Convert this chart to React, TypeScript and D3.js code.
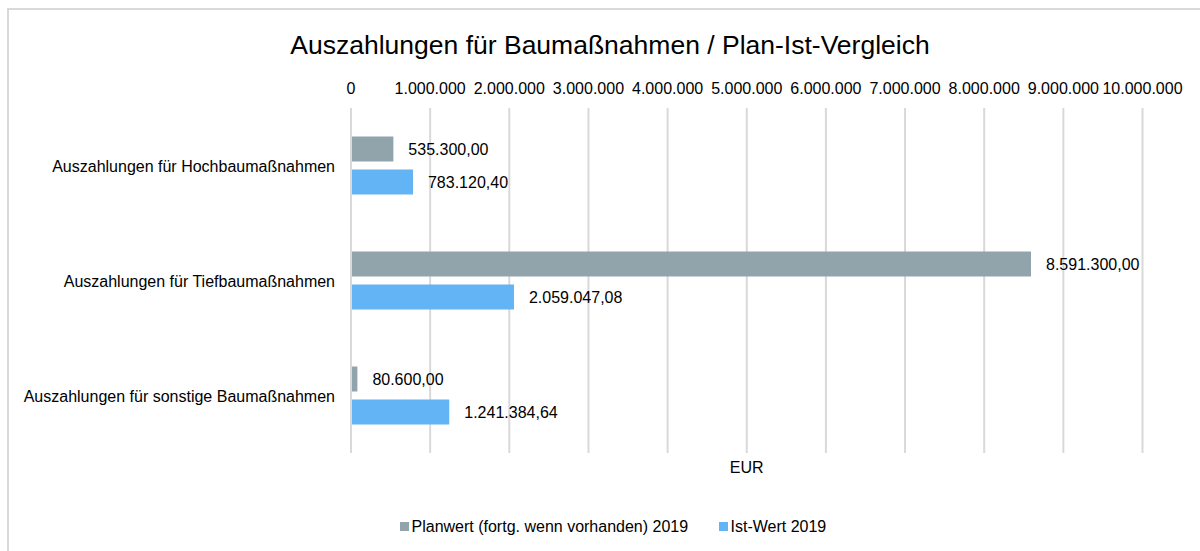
import React, { useEffect, useRef } from 'react';
import * as d3 from 'd3';

const W = 1200;
const H = 551;

const categories = [
  'Auszahlungen für Hochbaumaßnahmen',
  'Auszahlungen für Tiefbaumaßnahmen',
  'Auszahlungen für sonstige Baumaßnahmen',
];
const planValues = [535300.0, 8591300.0, 80600.0];
const istValues = [783120.4, 2059047.08, 1241384.64];
const seriesNames = ['Planwert (fortg. wenn vorhanden) 2019', 'Ist-Wert 2019'];
const seriesColors = ['#91A3AB', '#63B4F5'];
const ticks = [0, 1000000, 2000000, 3000000, 4000000, 5000000, 6000000, 7000000, 8000000, 9000000, 10000000];

const FONT = '"Liberation Sans", Arial, sans-serif';
const FS = 16;

const fmtTick = (v: number) => (v === 0 ? '0' : d3.format(',')(v).replace(/,/g, '.'));
const fmtVal = (v: number) => {
  const s = d3.format(',.2f')(v);
  return s.replace(/,/g, '#').replace('.', ',').replace(/#/g, '.');
};

const App = () => {
  const ref = useRef<SVGSVGElement>(null);

  useEffect(() => {
    const svg = d3.select(ref.current);
    svg.selectAll('*').remove();

    // chart frame (extends past the right/bottom edges)
    svg.append('rect')
      .attr('x', 8).attr('y', 9).attr('width', 1300).attr('height', 700)
      .attr('fill', '#fff').attr('stroke', '#d9d9d9').attr('stroke-width', 2);

    const x = d3.scaleLinear().domain([0, 10000000]).range([351, 1142.5]);
    const y = d3.scaleBand().domain(categories).range([108, 453]);
    const barH = 25;
    const inner = 8;

    svg.append('text')
      .attr('x', 610).attr('y', 53.5)
      .attr('text-anchor', 'middle')
      .attr('font-family', FONT).attr('font-size', 26.5)
      .attr('fill', '#000')
      .text('Auszahlungen für Baumaßnahmen / Plan-Ist-Vergleich');

    // grid
    svg.append('g').selectAll('line').data(ticks).enter().append('line')
      .attr('x1', d => x(d)).attr('x2', d => x(d))
      .attr('y1', 108).attr('y2', 453)
      .attr('stroke', '#d9d9d9').attr('stroke-width', 2);

    // tick labels
    svg.append('g').selectAll('text').data(ticks).enter().append('text')
      .attr('x', d => x(d)).attr('y', 94)
      .attr('text-anchor', 'middle')
      .attr('font-family', FONT).attr('font-size', FS).attr('fill', '#000')
      .text(d => fmtTick(d));

    // category labels
    svg.append('g').selectAll('text').data(categories).enter().append('text')
      .attr('x', 335)
      .attr('y', d => (y(d) as number) + y.bandwidth() / 2 + 6)
      .attr('text-anchor', 'end')
      .attr('font-family', FONT).attr('font-size', FS).attr('fill', '#000')
      .text(d => d);

    const series = [planValues, istValues];
    series.forEach((vals, si) => {
      const top = (c: string) => (y(c) as number) + y.bandwidth() / 2 - barH - inner / 2 + si * (barH + inner);
      const rows = categories.map((c, i) => ({ c, v: vals[i] }));
      const g = svg.append('g');
      g.selectAll('rect').data(rows).enter().append('rect')
        .attr('x', x(0) + 1)
        .attr('y', d => top(d.c))
        .attr('width', d => x(d.v) - x(0) - 1)
        .attr('height', barH)
        .attr('fill', seriesColors[si]);
      g.selectAll('text').data(rows).enter().append('text')
        .attr('x', d => x(d.v) + 15)
        .attr('y', d => top(d.c) + barH / 2 + 6)
        .attr('font-family', FONT).attr('font-size', FS).attr('fill', '#000')
        .text(d => fmtVal(d.v));
    });

    svg.append('text')
      .attr('x', (x(0) + x(10000000)) / 2).attr('y', 473)
      .attr('text-anchor', 'middle')
      .attr('font-family', FONT).attr('font-size', FS).attr('fill', '#000')
      .text('EUR');

    // legend
    const legendX = [400, 719];
    seriesNames.forEach((n, i) => {
      svg.append('rect')
        .attr('x', legendX[i]).attr('y', 522).attr('width', 9).attr('height', 9)
        .attr('fill', seriesColors[i]);
      svg.append('text')
        .attr('x', legendX[i] + 11.5).attr('y', 531.5)
        .attr('font-family', FONT).attr('font-size', FS).attr('fill', '#000')
        .text(n);
    });
  }, []);

  return (
    <div style={{ position: 'absolute', left: 0, top: 0 }}>
      <svg ref={ref} width={W} height={H} viewBox={`0 0 ${W} ${H}`} style={{ display: 'block' }} />
    </div>
  );
};

export default App;
